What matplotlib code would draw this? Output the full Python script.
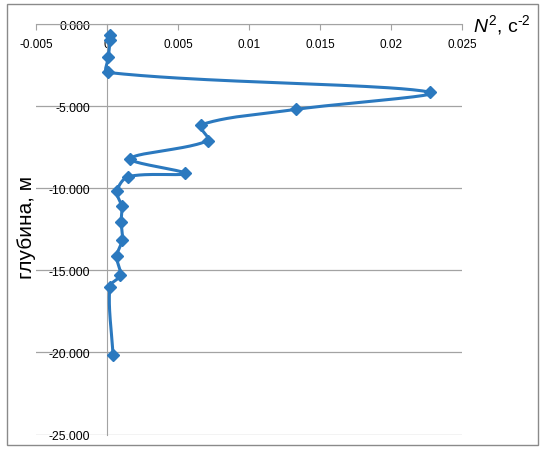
import numpy as np
import matplotlib
matplotlib.use('Agg')
import matplotlib.pyplot as plt
from matplotlib.patches import Rectangle
from matplotlib.ticker import FuncFormatter

# N^2 profile (depth in m, N^2 in s^-2)
depth = [-0.65, -1.0, -2.0, -2.95, -4.15, -5.2, -6.15, -7.1, -8.2, -9.1,
         -9.3, -10.2, -11.1, -12.05, -13.15, -14.15, -15.3, -16.0, -20.15]
n2 = [0.00023, 0.00022, 0.0001, 0.00005, 0.02275, 0.0133, 0.0066, 0.0071,
      0.00165, 0.0055, 0.0015, 0.0007, 0.00103, 0.001, 0.00107, 0.00068,
      0.00093, 0.0002, 0.00042]

x_ticks = [-0.005, 0, 0.005, 0.01, 0.015, 0.02, 0.025]
x_tick_labels = ['-0.005', '0', '0.005', '0.01', '0.015', '0.02', '0.025']
y_ticks = [0, -5, -10, -15, -20, -25]

plt.rcParams['font.family'] = ['Liberation Sans', 'DejaVu Sans']
plt.rcParams['axes.unicode_minus'] = False
plt.rcParams['mathtext.fontset'] = 'custom'
plt.rcParams['mathtext.rm'] = 'Liberation Sans'
plt.rcParams['mathtext.it'] = 'Liberation Sans:italic'

line_color = '#2b79bf'
grid_color = '#a3a3a3'

fig = plt.figure(figsize=(5.45, 4.52), dpi=100)
ax = fig.add_axes([36 / 545, 1 - 435.5 / 452, 426 / 545, 410.5 / 452])
ax.set_xlim(-0.005, 0.025)
ax.set_ylim(-25, 0)

# spines: x axis sits at depth 0 (top), y axis at N^2 = 0
for s in ['top', 'right']:
    ax.spines[s].set_visible(False)
ax.spines['bottom'].set_position(('data', 0))
ax.spines['left'].set_position(('data', 0))
ax.spines['bottom'].set_color(grid_color)
ax.spines['left'].set_color(grid_color)

ax.set_xticks(x_ticks)
ax.set_xticklabels(x_tick_labels)
ax.set_yticks(y_ticks)
ax.yaxis.set_major_formatter(FuncFormatter(lambda v, p: f'{v:.3f}'))
ax.tick_params(axis='x', direction='out', length=4, color=grid_color,
               labelsize=8.5, pad=6)
ax.tick_params(axis='y', length=0, labelsize=8.8, pad=12)
ax.yaxis.grid(True, color=grid_color, linewidth=0.9)
ax.set_axisbelow(True)

# smoothed line (Bezier, tangents weighted by segment length) in display space
fig.canvas.draw()
pts = ax.transData.transform(np.column_stack([n2, depth]))
ext = np.vstack([pts[0], pts, pts[-1]])
curve = []
t = np.linspace(0, 1, 40)[:, None]
for i in range(len(pts) - 1):
    p0, p1, p2, p3 = ext[i], ext[i + 1], ext[i + 2], ext[i + 3]
    d0 = np.hypot(*(p1 - p0))
    d1 = np.hypot(*(p2 - p1))
    d2 = np.hypot(*(p3 - p2))
    c1 = p1 + (p2 - p0) * d1 / (d0 + d1) / 3
    c2 = p2 - (p3 - p1) * d1 / (d1 + d2) / 3
    seg = ((1 - t) ** 3) * p1 + 3 * ((1 - t) ** 2) * t * c1 \
        + 3 * (1 - t) * t ** 2 * c2 + t ** 3 * p2
    curve.append(seg)
curve = ax.transData.inverted().transform(np.vstack(curve))
ax.plot(curve[:, 0], curve[:, 1], color=line_color, linewidth=2.2,
        solid_capstyle='round', zorder=3)
ax.plot(n2, depth, linestyle='none', marker='D', markersize=6.5,
        color=line_color, zorder=4)

fig.text(473 / 545, 1 - 32 / 452, r'$N^2$, с$^{\text{-2}}$', fontsize=14,
         ha='left', va='baseline')
fig.text(27 / 545, 1 - 227 / 452, 'глубина, м', fontsize=15,
         rotation=90, ha='center', va='center')

fig.patches.append(Rectangle((7 / 545, 1 - 446 / 452), 531 / 545, 441 / 452,
                             transform=fig.transFigure, fill=False,
                             edgecolor='#8a8a8a', linewidth=1))

fig.savefig('out.png', dpi=100)
